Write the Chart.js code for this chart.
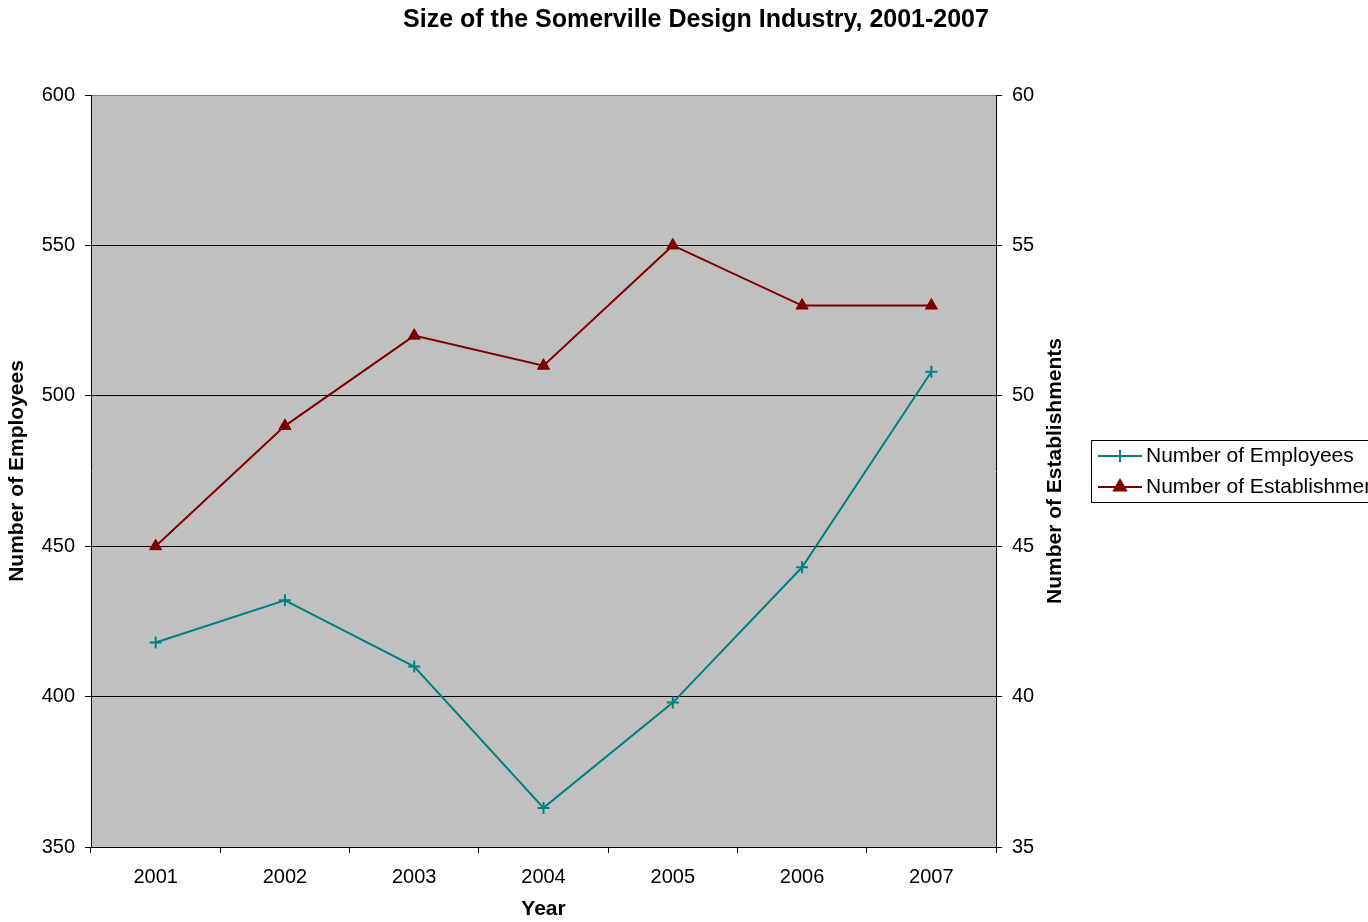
<!DOCTYPE html>
<html>
<head>
<meta charset="utf-8">
<script src="https://cdn.jsdelivr.net/npm/chart.js@4"></script>
<style>
  body { margin: 0; background: #fff; }
  canvas { display: block; }
</style>
</head>
<body>
<canvas id="industryChart" width="1368" height="922"></canvas>
<script>
// Data
const years = ['2001', '2002', '2003', '2004', '2005', '2006', '2007'];
const employees = [418, 432, 410, 363, 398, 443, 508];
const establishments = [45, 49, 52, 51, 55, 53, 53];
const employeeTicks = [350, 400, 450, 500, 550, 600];
const establishmentTicks = [35, 40, 45, 50, 55, 60];

const FONT = 'Arial, "Liberation Sans", sans-serif';

// Gray plot area behind the lines
const plotBackground = {
    id: 'plotBackground',
    beforeDraw(chart) {
        const { ctx, chartArea } = chart;
        ctx.save();
        ctx.fillStyle = '#C0C0C0';
        ctx.fillRect(chartArea.left, chartArea.top, chartArea.right - chartArea.left, chartArea.bottom - chartArea.top);
        ctx.restore();
    }
};

// Title and right axis title drawn by hand (title is off-centre, right title reads upwards)
const chartTitle = {
    id: 'chartTitle',
    afterDraw(chart) {
        const ctx = chart.ctx;
        ctx.save();
        ctx.font = 'bold 25px ' + FONT;
        ctx.fillStyle = '#000';
        ctx.textAlign = 'center';
        ctx.textBaseline = 'middle';
        ctx.fillText('Size of the Somerville Design Industry, 2001-2007', 696, 20);

        const y1 = chart.scales.y1;
        ctx.translate(1055, (y1.top + y1.bottom) / 2);
        ctx.rotate(-Math.PI / 2);
        ctx.font = 'bold 21px ' + FONT;
        ctx.fillText('Number of Establishments', 0, 0);
        ctx.restore();
    }
};

// Boxed legend on the right, like the spreadsheet one
const boxLegend = {
    id: 'boxLegend',
    afterDraw(chart) {
        const ctx = chart.ctx;
        const x = 1091.5, y = 440.5, rowH = 31;
        ctx.save();
        ctx.strokeStyle = '#000';
        ctx.lineWidth = 1;
        ctx.strokeRect(x, y, 300, 62);
        chart.data.datasets.forEach((ds, i) => {
            const cy = y + 15.5 + i * rowH;
            ctx.strokeStyle = ds.borderColor;
            ctx.lineWidth = 2;
            ctx.beginPath();
            ctx.moveTo(1098, cy);
            ctx.lineTo(1142, cy);
            ctx.stroke();
            Chart.helpers.drawPoint(ctx, {
                pointStyle: ds.pointStyle,
                radius: ds.pointRadius,
                borderWidth: ds.pointBorderWidth
            }, 1120, cy);
            if (ds.pointStyle === 'triangle') {
                ctx.fillStyle = ds.pointBackgroundColor;
                ctx.fill();
            }
            ctx.fillStyle = '#000';
            ctx.font = '21px ' + FONT;
            ctx.textAlign = 'left';
            ctx.textBaseline = 'middle';
            ctx.fillText(ds.label, 1146, cy);
        });
        ctx.restore();
    }
};

const ctx = document.getElementById('industryChart').getContext('2d');
const industryChart = new Chart(ctx, {
    type: 'line',
    data: {
        labels: years,
        datasets: [{
            label: 'Number of Employees',
            data: employees,
            yAxisID: 'y',
            borderColor: '#008080',
            backgroundColor: '#008080',
            borderWidth: 2,
            pointStyle: 'cross',
            pointRadius: 6,
            pointBorderWidth: 2,
            pointBorderColor: '#008080',
            tension: 0
        }, {
            label: 'Number of Establishments',
            data: establishments,
            yAxisID: 'y1',
            borderColor: '#800000',
            backgroundColor: '#800000',
            borderWidth: 2,
            pointStyle: 'triangle',
            pointRadius: 7,
            pointBorderWidth: 1,
            pointBorderColor: '#800000',
            pointBackgroundColor: '#800000',
            tension: 0
        }]
    },
    options: {
        responsive: false,
        animation: false,
        layout: { padding: { top: 95, left: 4, right: 299, bottom: 0 } },
        plugins: {
            legend: { display: false },
            title: { display: false },
            tooltip: { enabled: false }
        },
        scales: {
            x: {
                offset: true,
                grid: { offset: true, drawOnChartArea: false, color: '#000', tickLength: 6 },
                border: { color: '#000', width: 1 },
                ticks: { color: '#000', font: { family: FONT, size: 20 }, padding: 12, maxRotation: 0 },
                title: { display: true, text: 'Year', color: '#000', font: { family: FONT, size: 21, weight: 'bold' }, padding: 0 },
                afterFit(scale) { scale.height = 75; }
            },
            y: {
                position: 'left',
                min: 350,
                max: 600,
                afterBuildTicks(scale) { scale.ticks = employeeTicks.map(v => ({ value: v })); },
                grid: {
                    color: c => (c.tick && c.tick.value === 600) ? '#808080' : '#000',
                    tickColor: '#000',
                    tickLength: 6
                },
                border: { color: '#000', width: 1 },
                ticks: { color: '#000', font: { family: FONT, size: 20 }, padding: 10 },
                title: { display: true, text: 'Number of Employees', color: '#000', font: { family: FONT, size: 21, weight: 'bold' }, padding: { top: 1, bottom: 0 } },
                afterFit(scale) { scale.width = 87; }
            },
            y1: {
                position: 'right',
                min: 35,
                max: 60,
                afterBuildTicks(scale) { scale.ticks = establishmentTicks.map(v => ({ value: v })); },
                grid: { drawOnChartArea: false, color: '#000', tickLength: 6 },
                border: { color: '#000', width: 1 },
                ticks: { color: '#000', font: { family: FONT, size: 20 }, padding: 10 },
                afterFit(scale) { scale.width = 73; }
            }
        }
    },
    plugins: [plotBackground, chartTitle, boxLegend]
});
</script>
</body>
</html>
